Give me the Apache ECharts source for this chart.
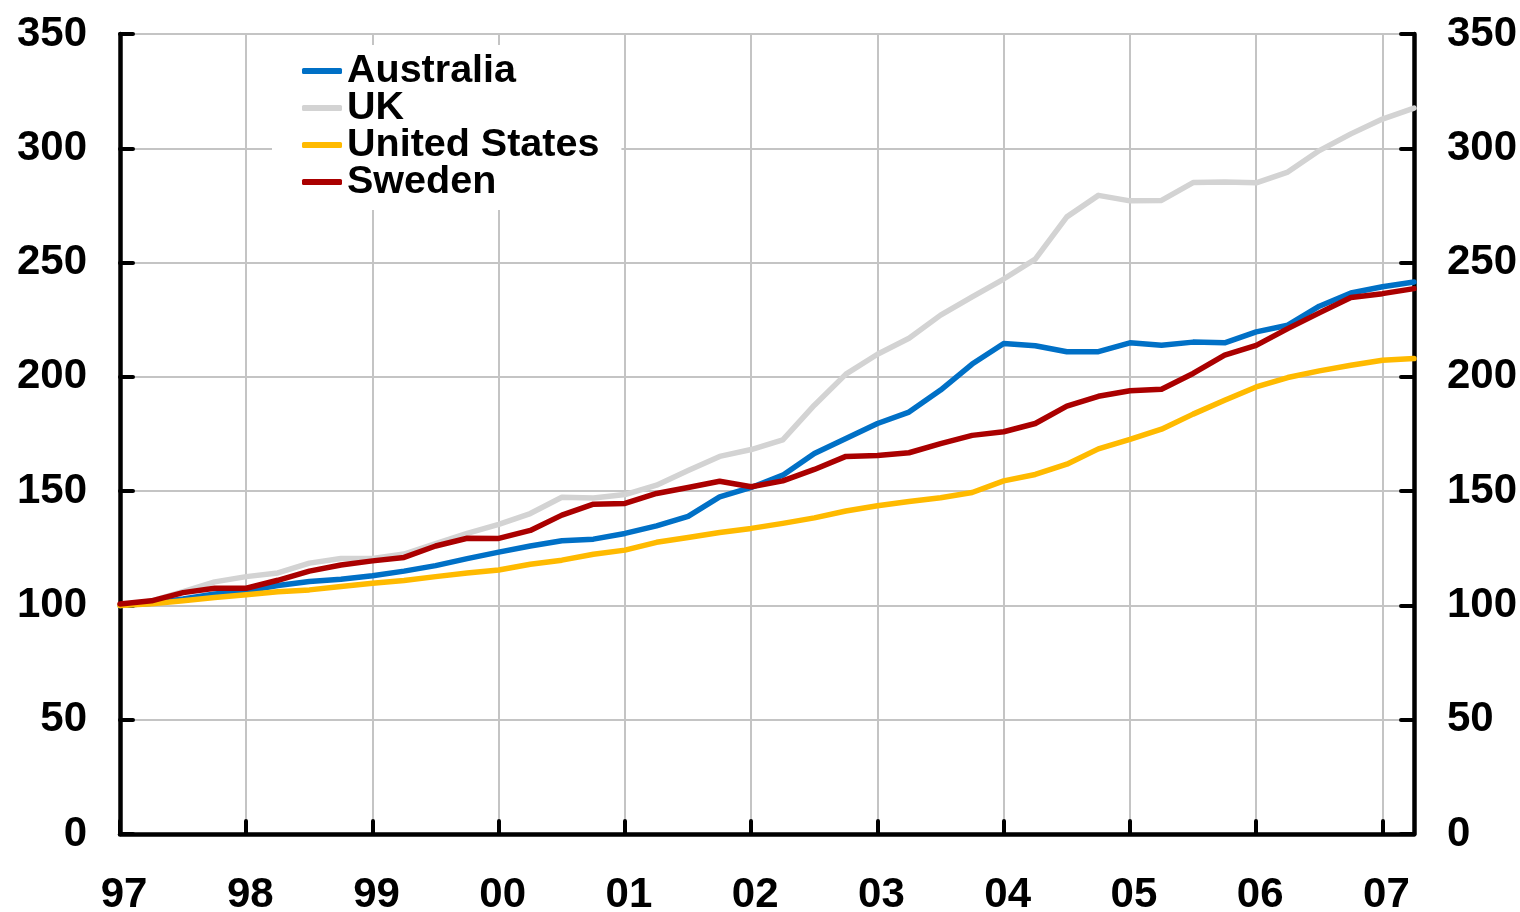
<!DOCTYPE html>
<html>
<head>
<meta charset="utf-8">
<script src="https://cdn.jsdelivr.net/npm/echarts@6/dist/echarts.min.js"></script>
<style>
html,body{margin:0;padding:0;background:#fff;}
#chart{width:1520px;height:912px;}
</style>
</head>
<body>
<div id="chart"></div>
<script>
// Years shown on the x axis (one label every 4 quarters)
var yearLabels = ['97','98','99','00','01','02','03','04','05','06','07'];
// Quarterly categories 97 Q1 .. 07 Q2
var quarters = [];
for (var y = 0; y < yearLabels.length; y++) {
  for (var q = 1; q <= 4; q++) {
    if (y === yearLabels.length - 1 && q > 2) break;
    quarters.push(yearLabels[y] + ' Q' + q);
  }
}
var yTicks = [0, 50, 100, 150, 200, 250, 300, 350];

var australia = [100,101,102.8,105,106.3,108.7,110.5,111.5,113,115,117.4,120.5,123.3,126,128.3,129,131.5,134.8,139,147.5,151.6,157,166.5,173,179.6,184.6,194.2,205.6,214.6,213.6,211,211,214.9,213.8,215.2,214.9,219.7,222.6,230.9,236.7,239.4,241.5];
var uk = [100,102,106,110.3,112.6,114.2,118.5,120.5,120.5,122.5,127,131.5,135.5,140.2,147.3,147,148.5,152.6,159,165.2,168.2,172.4,187.6,201.2,209.9,216.9,227,235,242.8,251.5,270,279.4,277,277.2,285,285.3,284.9,289.6,299,306.3,312.8,317.6];
var unitedStates = [100,100.7,102,103.5,104.7,106,106.8,108.3,109.7,110.9,112.6,114.2,115.5,118,119.8,122.4,124.2,127.6,129.7,131.9,133.7,135.9,138.3,141.3,143.6,145.5,147.1,149.4,154.5,157.3,161.8,168.5,172.6,177.1,183.7,189.8,195.6,199.7,202.6,205.1,207.3,208];
var sweden = [100.6,102,105.6,107.5,107.5,111,115,117.7,119.5,121,126,129.4,129.3,132.8,139.5,144.3,144.6,149,151.6,154.3,151.9,154.5,159.5,165.2,165.6,166.8,170.8,174.4,176,179.6,187.2,191.5,193.9,194.6,201.5,209.5,213.8,221.1,228,234.7,236.4,238.6];

var seriesNames = ['Australia','UK','United States','Sweden'];
var seriesColors = ['#0070C6','#D3D3D3','#FFBA00','#AA0000'];
var seriesData = [australia, uk, unitedStates, sweden];

var FONT = '"Liberation Sans", Arial, sans-serif';
var chart = echarts.init(document.getElementById('chart'), null, {renderer:'canvas'});

var yAxisCommon = {
  type: 'value', min: 0, max: 350, interval: 50,
  axisLine: {show: true, lineStyle: {color: '#000', width: 4.5}},
  axisTick: {show: true, inside: true, length: 13, lineStyle: {color: '#000', width: 4, cap: 'round'}},
  axisLabel: {color: '#000', fontFamily: FONT, fontWeight: 'bold', fontSize: 42, margin: 33,
    formatter: function (v) { return yTicks.indexOf(v) >= 0 ? String(v) : ''; }}
};

var option = {
  animation: false,
  backgroundColor: '#fff',
  grid: {left: 120, right: 106, top: 34, bottom: 78, containLabel: false, outerBoundsMode: 'none'},
  legend: {
    orient: 'vertical', left: 272, top: 45,
    padding: [6, 22, 8, 30],
    backgroundColor: '#fff',
    itemGap: -3, itemWidth: 40, itemHeight: 6,
    icon: 'roundRect',
    data: seriesNames,
    textStyle: {color: '#000', fontFamily: FONT, fontWeight: 'bold', fontSize: 39.5}
  },
  xAxis: {
    type: 'category', boundaryGap: false, data: quarters,
    axisLine: {show: true, onZero: false, lineStyle: {color: '#000', width: 4.5}},
    axisTick: {show: true, inside: true, interval: 3, length: 13, lineStyle: {color: '#000', width: 4, cap: 'round'}},
    splitLine: {show: true, interval: 3, lineStyle: {color: '#C4C4C4', width: 2}},
    axisLabel: {interval: 3, color: '#000', fontFamily: FONT, fontWeight: 'bold', fontSize: 42, margin: 40,
      padding: [0, 0, 0, 8],
      formatter: function (v, idx) { return yearLabels[Math.floor(idx / 4)]; }}
  },
  yAxis: [
    Object.assign({}, yAxisCommon, {position: 'left',
      splitLine: {show: true, lineStyle: {color: '#C4C4C4', width: 2}}}),
    Object.assign({}, yAxisCommon, {position: 'right', splitLine: {show: false}})
  ],
  series: seriesNames.map(function (name, i) {
    return {
      name: name, type: 'line', data: seriesData[i], yAxisIndex: 0,
      symbol: 'none', smooth: false,
      itemStyle: {color: seriesColors[i]},
      lineStyle: {color: seriesColors[i], width: 5.5, cap: 'round', join: 'round'},
      z: 3 + i
    };
  })
};
chart.setOption(option);
</script>
</body>
</html>
